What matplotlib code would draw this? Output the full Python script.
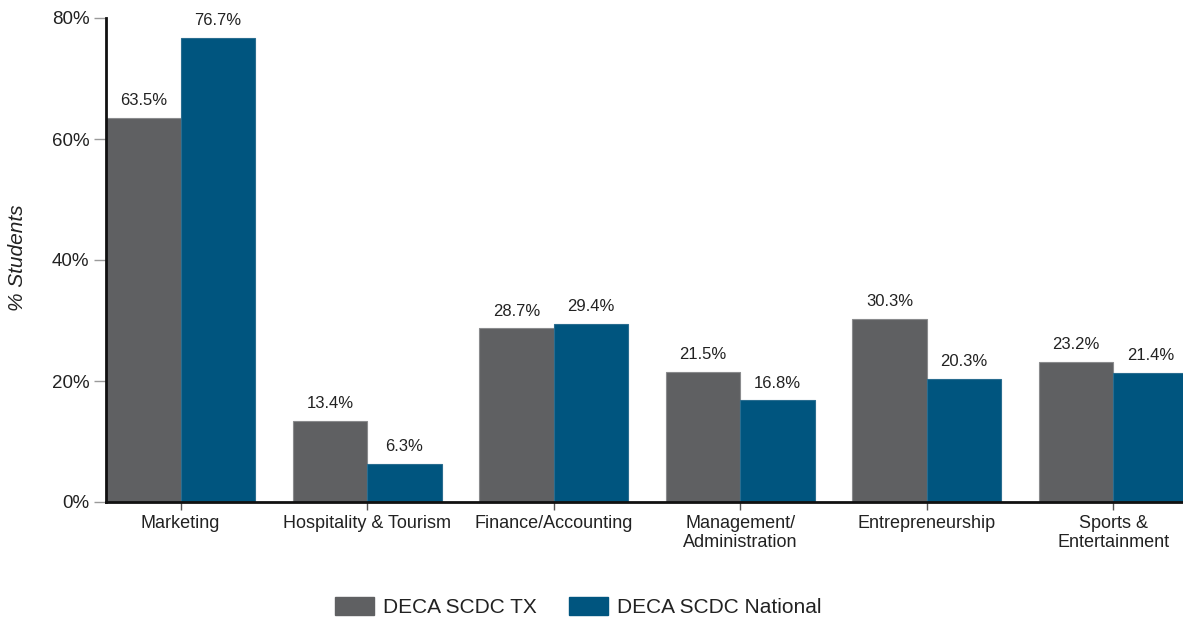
import numpy as np
import matplotlib.pyplot as plt
import matplotlib.ticker as ticker
from matplotlib.patches import Patch

plt.rcParams['font.family'] = ['Liberation Sans', 'DejaVu Sans']

# share of students by career cluster
categories = ['Marketing', 'Hospitality & Tourism', 'Finance/Accounting',
              'Management/\nAdministration', 'Entrepreneurship', 'Sports &\nEntertainment']
tx_values = [63.5, 13.4, 28.7, 21.5, 30.3, 23.2]
national_values = [76.7, 6.3, 29.4, 16.8, 20.3, 21.4]
series_names = ['DECA SCDC TX', 'DECA SCDC National']

GRAY = '#5f6062'
BLUE = '#00557f'
TEXT = '#222222'

fig = plt.figure(figsize=(11.83, 6.21), dpi=100)
ax = fig.add_axes([106 / 1183, 1 - 502 / 621, 1 - 106 / 1183, (502 - 18) / 621])

x = np.arange(len(categories))
w = 0.4
tx_bars = ax.bar(x - w / 2, tx_values, w, color=GRAY, edgecolor='#8a8b8d', linewidth=0.8)
nat_bars = ax.bar(x + w / 2, national_values, w, color=BLUE, edgecolor='#2a6d90', linewidth=0.8)

for bars, vals in ((tx_bars, tx_values), (nat_bars, national_values)):
    for b, v in zip(bars, vals):
        ax.annotate(f'{v:.1f}%', (b.get_x() + b.get_width() / 2, v),
                    xytext=(0, 7), textcoords='offset points',
                    ha='center', va='bottom', fontsize=12, color=TEXT)

ax.set_xlim(-0.4, 5.373)
ax.set_ylim(0, 80)
ax.set_yticks([0, 20, 40, 60, 80])
ax.yaxis.set_major_formatter(ticker.FuncFormatter(lambda v, p: f'{int(v)}%'))
ax.set_xticks(x)
ax.set_xticklabels(categories, fontsize=13, color=TEXT, linespacing=1.2)
ax.tick_params(axis='y', labelsize=13.5, labelcolor=TEXT, color='#9a9a9a', length=9, width=1, pad=3)
ax.tick_params(axis='x', color='#555555', length=6, width=1, pad=3)

for side in ('top', 'right'):
    ax.spines[side].set_visible(False)
ax.spines['left'].set_linewidth(2)
ax.spines['bottom'].set_linewidth(2)
ax.spines['left'].set_color('#111111')
ax.spines['bottom'].set_color('#111111')

fig.text(18 / 1183, 1 - 258 / 621, '% Students', rotation=90, style='italic',
         fontsize=15, color=TEXT, ha='center', va='center')

handles = [Patch(facecolor=GRAY, edgecolor=GRAY), Patch(facecolor=BLUE, edgecolor=BLUE)]
fig.legend(handles, series_names, loc='center', bbox_to_anchor=(578 / 1183, 1 - 607 / 621),
           ncol=2, frameon=False, fontsize=15, handlelength=1.9, handleheight=1.0,
           columnspacing=1.55, handletextpad=0.4, labelcolor=TEXT)

fig.savefig('out.png', dpi=100)
